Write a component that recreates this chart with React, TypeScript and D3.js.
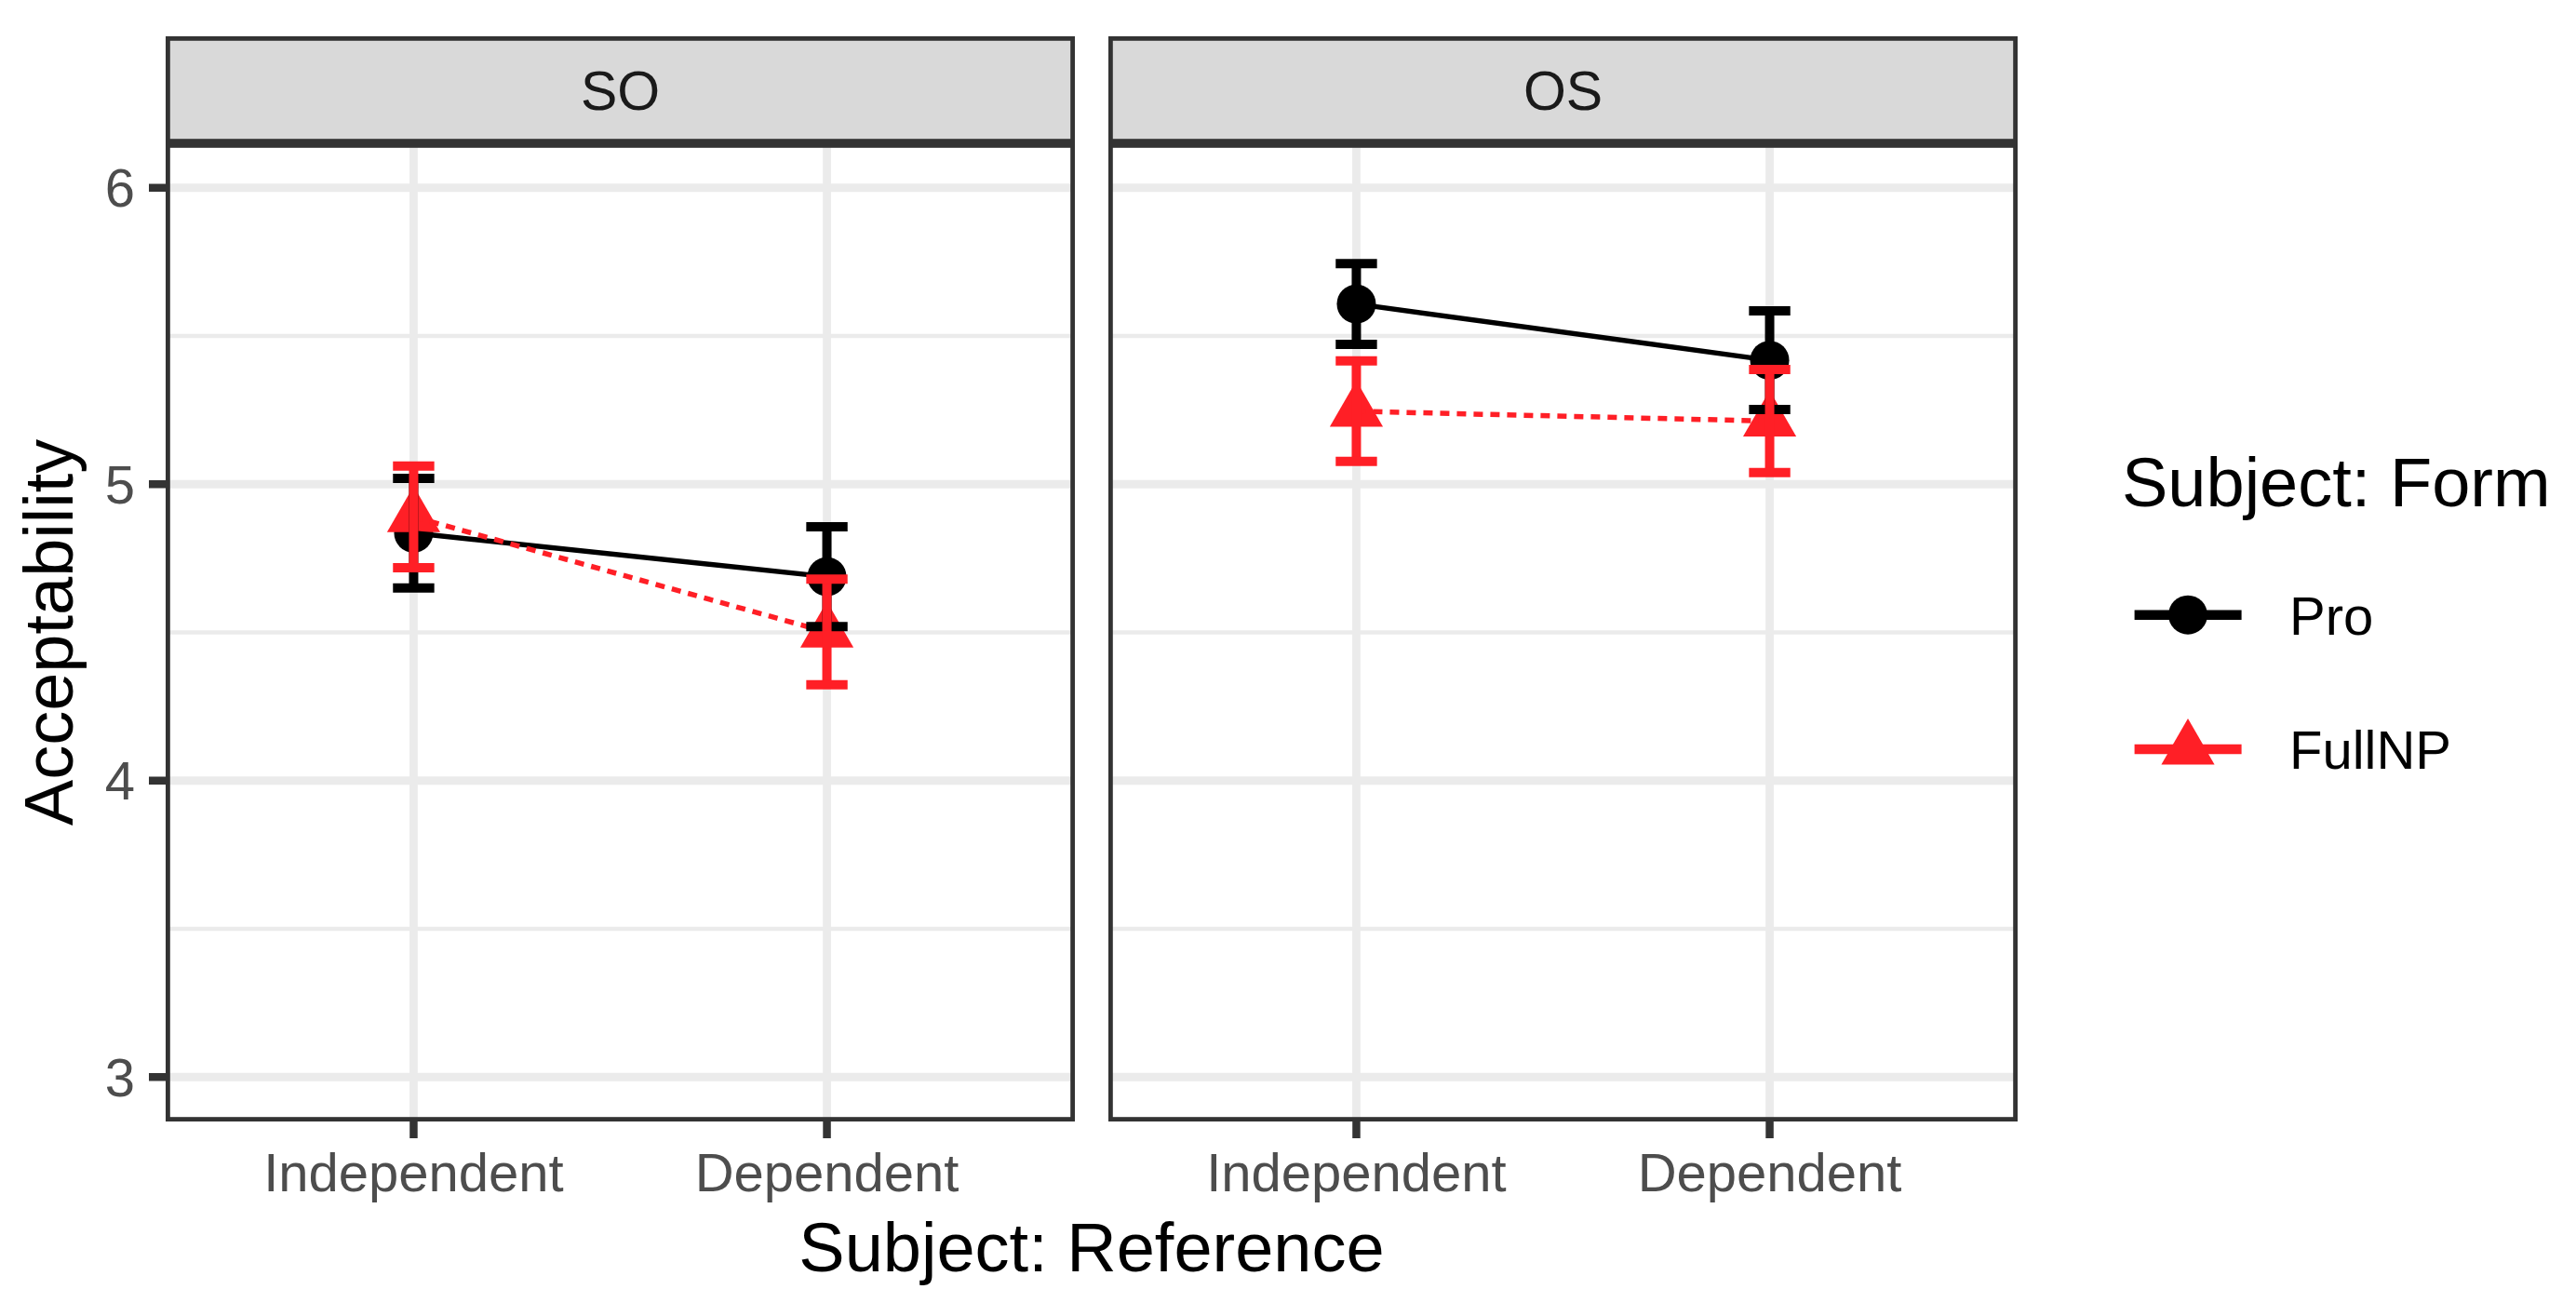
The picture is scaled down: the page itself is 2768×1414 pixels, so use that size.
import React from "react";
import * as d3 from "d3";

const conditions = ["SO", "OS"];
const references = ["Independent", "Dependent"];
const forms = ["Pro", "FullNP"];

// order: SO-Independent, SO-Dependent, OS-Independent, OS-Dependent
const proMean = [4.835, 4.688, 5.608, 5.418];
const proLower = [4.65, 4.52, 5.472, 5.252];
const proUpper = [5.02, 4.856, 5.744, 5.585];
const fullMean = [4.89, 4.501, 5.246, 5.213];
const fullLower = [4.718, 4.323, 5.077, 5.039];
const fullUpper = [5.061, 4.68, 5.416, 5.387];

const yTicks = [3, 4, 5, 6];
const yMinor = [3.5, 4.5, 5.5];

const W = 2768;
const H = 1414;
const FONT = "'Liberation Sans', Arial, Helvetica, sans-serif";
const RED = "#FF1F26";
const colors: Record<string, string> = { Pro: "#000000", FullNP: RED };

const panels = [
  { name: conditions[0], x0: 178, x1: 1155 },
  { name: conditions[1], x0: 1191, x1: 2168 },
];
const stripTop = 39;
const panelTop = 154;
const panelBottom = 1205;
const border = 4.8;

const y = d3.scaleLinear().domain([2.85, 6.15]).range([panelBottom, panelTop]);

type Row = { cond: string; ref: string; form: string; mean: number; lo: number; hi: number };
const rows: Row[] = [];
conditions.forEach((c, ci) =>
  references.forEach((r, ri) => {
    const i = ci * 2 + ri;
    rows.push({ cond: c, ref: r, form: forms[0], mean: proMean[i], lo: proLower[i], hi: proUpper[i] });
    rows.push({ cond: c, ref: r, form: forms[1], mean: fullMean[i], lo: fullLower[i], hi: fullUpper[i] });
  })
);

const triPath = (r: number) => {
  const h = (Math.sqrt(3) / 2) * r;
  return `M0,${-r} L${h},${r / 2} L${-h},${r / 2} Z`;
};

function Marker({ form, x, yy }: { form: string; x: number; yy: number }) {
  if (form === "Pro") return <circle cx={x} cy={yy} r={21} fill="#000" />;
  return <path d={triPath(33)} transform={`translate(${x},${yy})`} fill={RED} />;
}

export default function App() {
  const line = d3.line<Row>();
  return (
    <svg
      width={W}
      height={H}
      viewBox={`0 0 ${W} ${H}`}
      style={{ position: "absolute", left: 0, top: 0, background: "#fff" }}
      fontFamily={FONT}
    >
      <rect x={0} y={0} width={W} height={H} fill="#fff" />
      {panels.map((p, pi) => {
        const x = d3.scalePoint<string>().domain(references).range([p.x0, p.x1]).padding(0.6);
        const pr = rows.filter((r) => r.cond === p.name);
        return (
          <g key={p.name}>
            {/* strip */}
            <rect x={p.x0} y={stripTop} width={p.x1 - p.x0} height={panelTop - stripTop} fill="#D9D9D9" />
            <rect
              x={p.x0 + border / 2}
              y={stripTop + border / 2}
              width={p.x1 - p.x0 - border}
              height={panelTop - stripTop - border}
              fill="none"
              stroke="#333333"
              strokeWidth={border}
            />
            <text x={(p.x0 + p.x1) / 2} y={118.3} textAnchor="middle" fontSize={59} fill="#1A1A1A">
              {p.name}
            </text>
            {/* grid */}
            {yMinor.map((t) => (
              <line key={"mn" + t} x1={p.x0} x2={p.x1} y1={y(t)} y2={y(t)} stroke="#EBEBEB" strokeWidth={4.4} />
            ))}
            {yTicks.map((t) => (
              <line key={"mj" + t} x1={p.x0} x2={p.x1} y1={y(t)} y2={y(t)} stroke="#EBEBEB" strokeWidth={8.8} />
            ))}
            {references.map((r) => (
              <line key={"v" + r} x1={x(r)} x2={x(r)} y1={panelTop} y2={panelBottom} stroke="#EBEBEB" strokeWidth={8.8} />
            ))}
            {/* points */}
            {forms.map((f) =>
              pr
                .filter((r) => r.form === f)
                .map((r) => <Marker key={f + r.ref} form={f} x={x(r.ref)!} yy={y(r.mean)} />)
            )}
            {/* lines */}
            {forms.map((f) => {
              const fr = pr.filter((r) => r.form === f);
              const d = line.x((r) => x(r.ref)!).y((r) => y(r.mean))(fr) || "";
              return (
                <path
                  key={"l" + f}
                  d={d}
                  fill="none"
                  stroke={colors[f]}
                  strokeWidth={5.5}
                  strokeDasharray={f === "FullNP" ? "10 8" : undefined}
                />
              );
            })}
            {/* error bars */}
            {forms.map((f) =>
              pr
                .filter((r) => r.form === f)
                .map((r) => {
                  const cx = x(r.ref)!;
                  const hw = 22.2;
                  return (
                    <g key={"e" + f + r.ref} stroke={colors[f]} strokeWidth={10}>
                      <line x1={cx} x2={cx} y1={y(r.lo)} y2={y(r.hi)} />
                      <line x1={cx - hw} x2={cx + hw} y1={y(r.lo)} y2={y(r.lo)} />
                      <line x1={cx - hw} x2={cx + hw} y1={y(r.hi)} y2={y(r.hi)} />
                    </g>
                  );
                })
            )}
            {/* panel border */}
            <rect
              x={p.x0 + border / 2}
              y={panelTop + border / 2}
              width={p.x1 - p.x0 - border}
              height={panelBottom - panelTop - border}
              fill="none"
              stroke="#333333"
              strokeWidth={border}
            />
            {/* x ticks */}
            {references.map((r) => (
              <g key={"xt" + r}>
                <line x1={x(r)} x2={x(r)} y1={panelBottom} y2={1223} stroke="#333333" strokeWidth={8.5} />
                <text x={x(r)} y={1280} textAnchor="middle" fontSize={58} fill="#4D4D4D">
                  {r}
                </text>
              </g>
            ))}
            {/* y ticks for first panel */}
            {pi === 0 &&
              yTicks.map((t) => (
                <g key={"yt" + t}>
                  <line x1={160} x2={p.x0} y1={y(t)} y2={y(t)} stroke="#333333" strokeWidth={8.5} />
                  <text x={145} y={y(t) + 20.5} textAnchor="end" fontSize={58} fill="#4D4D4D">
                    {t}
                  </text>
                </g>
              ))}
          </g>
        );
      })}
      {/* axis titles */}
      <text x={(panels[0].x0 + panels[1].x1) / 2} y={1366} textAnchor="middle" fontSize={74} fill="#000">
        Subject: Reference
      </text>
      <text
        transform={`translate(78,${(panelTop + panelBottom) / 2}) rotate(-90)`}
        textAnchor="middle"
        fontSize={74}
        fill="#000"
      >
        Acceptability
      </text>
      {/* legend */}
      <text x={2280} y={544} fontSize={74} fill="#000">
        Subject: Form
      </text>
      {forms.map((f, i) => {
        const cy = i === 0 ? 660.7 : 805;
        return (
          <g key={"lg" + f}>
            <line x1={2293.6} x2={2408.6} y1={cy} y2={cy} stroke={colors[f]} strokeWidth={10.5} />
            <Marker form={f} x={2351} yy={cy} />
            <text x={2460} y={cy + 21} fontSize={58} fill="#000">
              {f}
            </text>
          </g>
        );
      })}
    </svg>
  );
}
